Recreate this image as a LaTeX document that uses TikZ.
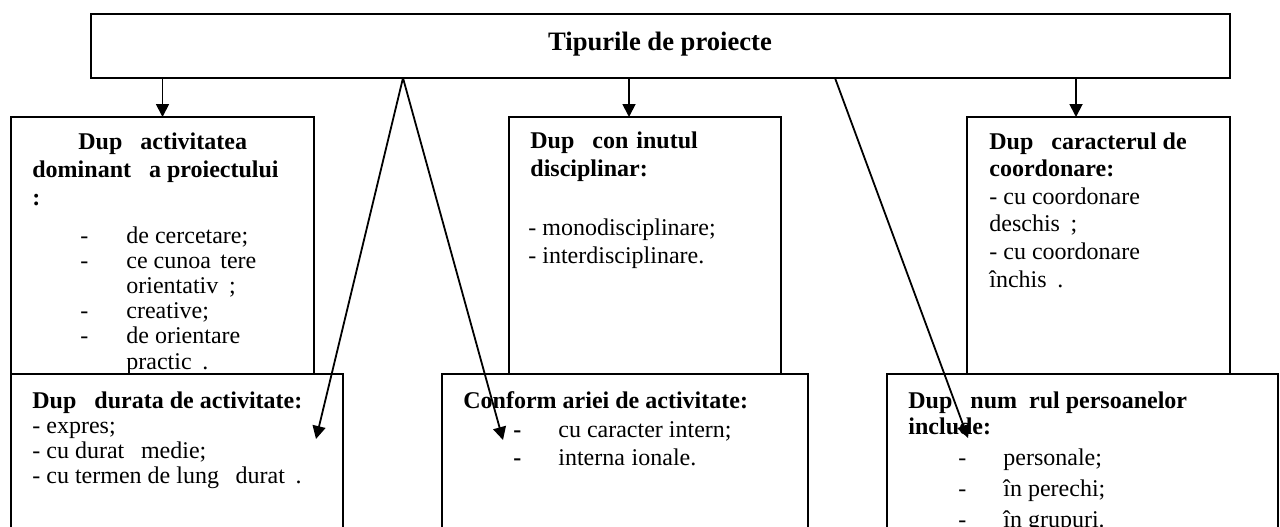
\documentclass[tikz,border=0pt]{standalone}
\usepackage{fontspec}
\setmainfont{Liberation Serif}
\usepackage{tikz}
\usetikzlibrary{arrows.meta,positioning}
\tikzstyle{typebox} = [rectangle, anchor=north west, inner sep=0pt, outer sep=0pt, draw=black, fill=white, line width=1.1pt]
\tikzstyle{arrow} = [line width=0.9pt, -{Triangle[length=6.5pt,width=6.5pt]}]
\tikzstyle{boxtext} = [anchor=base west, inner sep=0pt, align=left, font=\fontsize{12}{14}\selectfont]
\tikzstyle{boxhead} = [boxtext, font=\fontsize{12}{14}\selectfont\bfseries]

\begin{document}
\begin{tikzpicture}[x=0.5pt, y=-0.5pt]
\useasboundingbox (0,0) rectangle (1280,526);
\clip (0,0) rectangle (1280,526);

% Main node
\node[typebox, minimum width=569.5pt, minimum height=32pt] (types) at (91,14) {};
\node[boxhead, anchor=base, font=\fontsize{13.3}{15}\selectfont\bfseries] (typestitle) at (660,50) {Tipurile de proiecte};

% Upper row (text nodes sit on the baseline of their last line)
\node[typebox, minimum width=151.5pt, minimum height=129pt] (activity) at (11,117) {};
\node[typebox, minimum width=136pt, minimum height=129pt] (content) at (509,117) {};
\node[typebox, minimum width=131.5pt, minimum height=129pt] (coord) at (967,117) {};

\node[boxhead] (activityhead) at (32,205) {\hspace*{23pt}Dup\phantom{a} activitatea\\ dominant\phantom{a} a proiectului\\ :};
\node[boxtext, font=\fontsize{12}{12.6}\selectfont] (activitylist) at (80,369) {\makebox[23pt][l]{-}de cercetare;\\ \makebox[23pt][l]{-}ce cunoa\phantom{s}tere\\ \hspace*{23pt}orientativ\phantom{a};\\ \makebox[23pt][l]{-}creative;\\ \makebox[23pt][l]{-}de orientare\\ \hspace*{23pt}practic\phantom{a}.};

\node[boxhead] (contenthead) at (530,176) {Dup\phantom{a} con\phantom{t}inutul\\ disciplinar:};
\node[boxtext] (contentlist) at (528,263) {- monodisciplinare;\\ - interdisciplinare.};

\node[boxtext, font=\fontsize{12}{13.8}\selectfont] (coordtext) at (989,287) {\textbf{Dup\phantom{a} caracterul de}\\ \textbf{coordonare:}\\ - cu coordonare\\ deschis\phantom{a};\\ - cu coordonare\\ închis\phantom{a}.};

% Lower row
\node[typebox, minimum width=166pt, minimum height=100pt] (duration) at (11,374) {};
\node[typebox, minimum width=183pt, minimum height=100pt] (area) at (442,374) {};
\node[typebox, minimum width=195.5pt, minimum height=100pt] (persons) at (887,374) {};

\node[boxtext, font=\fontsize{12}{12.5}\selectfont] (durationtext) at (32,483) {\textbf{Dup\phantom{a} durata de activitate:}\\ - expres;\\ - cu durat\phantom{a} medie;\\ - cu termen de lung\phantom{a} durat\phantom{a}.};

\node[boxhead] (areahead) at (463,408) {Conform ariei de activitate:};
\node[boxtext] (arealist) at (513,465) {\makebox[22.5pt][l]{\textbf{-}}cu caracter intern;\\ \makebox[22.5pt][l]{\textbf{-}}interna\phantom{t}ionale.};

\node[boxhead, font=\fontsize{12}{13}\selectfont\bfseries] (personshead) at (908,434) {Dup\phantom{a} num\phantom{a}rul persoanelor\\ include:};
\node[boxtext, font=\fontsize{12}{15.5}\selectfont] (personslist) at (958,527) {\makebox[22.5pt][l]{-}personale;\\ \makebox[22.5pt][l]{-}în perechi;\\ \makebox[22.5pt][l]{-}în grupuri.};

% Connections
\coordinate (tipcontent) at (629,117);
\coordinate (tipcoord) at (1076,117);
\coordinate (forkleft) at (403,78);
\coordinate (forkright) at (835,78);
\coordinate (tipduration) at (316,439);
\coordinate (tiparea) at (503,440);
\coordinate (tippersons) at (968,438);
\draw[arrow] (types.south -| activity.north) -- (activity.north);
\draw[arrow] (types.south -| tipcontent) -- (tipcontent);
\draw[arrow] (types.south -| tipcoord) -- (tipcoord);
\draw[arrow] (forkleft) -- (tipduration);
\draw[arrow] (forkleft) -- (tiparea);
\draw[arrow] (forkright) -- (tippersons);
\end{tikzpicture}
\end{document}
